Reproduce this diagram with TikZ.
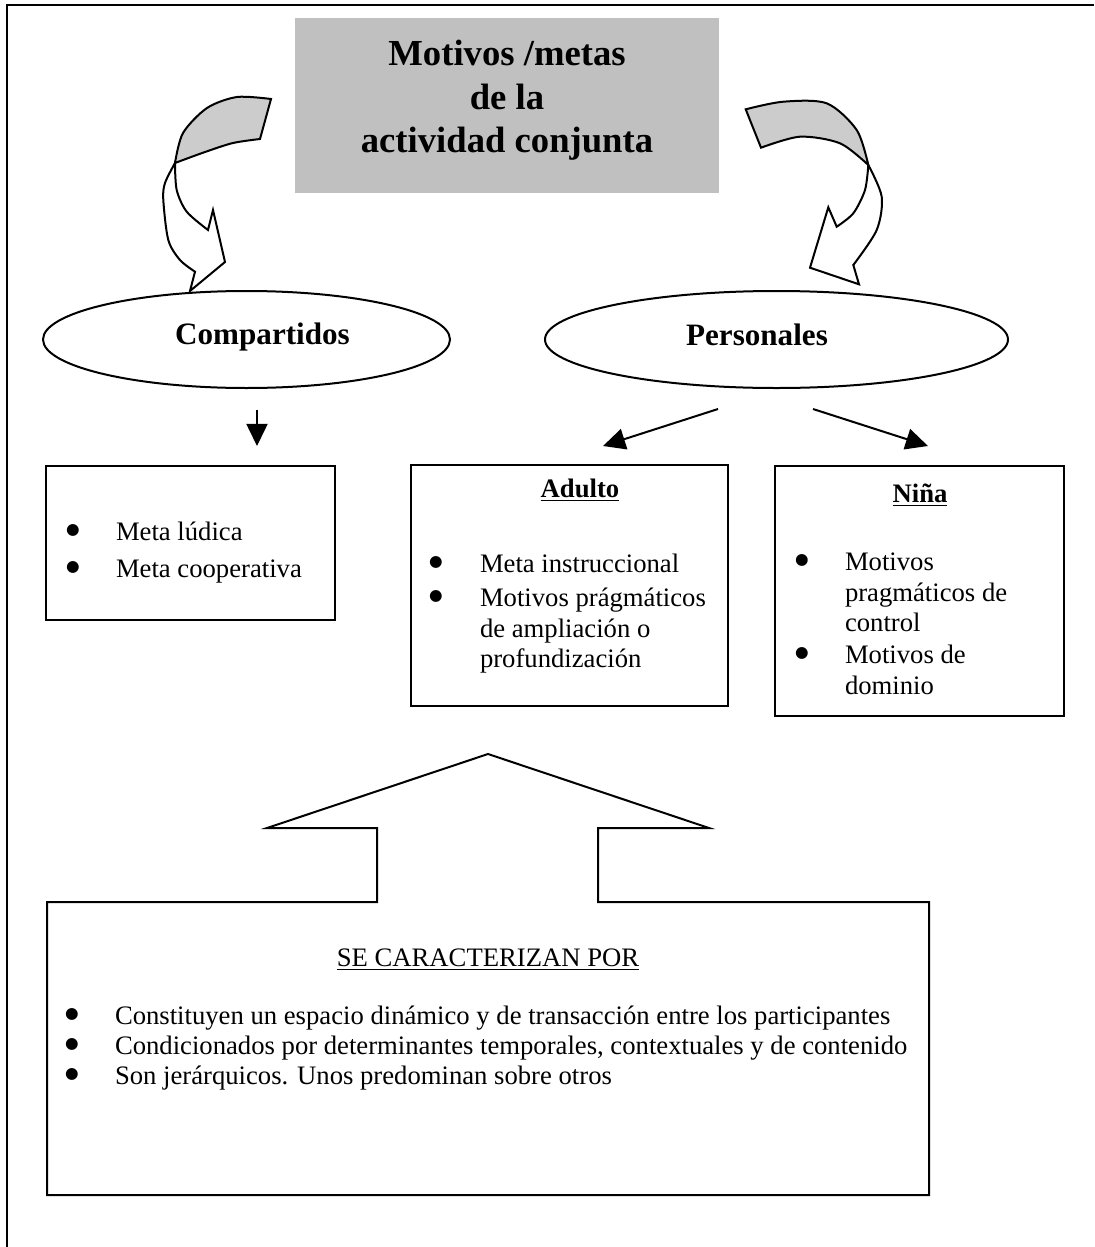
\documentclass[tikz,border=0pt]{standalone}
\usepackage{fontspec}
\setmainfont{Liberation Serif}
\newfontfamily\bulletfont{DejaVu Sans}
\usetikzlibrary{shapes.geometric,arrows.meta,fit,calc}
\definecolor{titlegray}{HTML}{C0C0C0}
\definecolor{ribbongray}{HTML}{CCCCCC}
\begin{document}
\begin{tikzpicture}[x=0.45pt,y=-0.45pt,line width=0.9pt,
  box/.style={draw,inner sep=0pt},
  oval/.style={draw,ellipse,inner sep=0pt},
  arr/.style={-{Triangle[length=10pt,width=9.5pt]}},
  titletxt/.style={anchor=base,inner sep=0pt,font=\fontsize{16.5}{20}\selectfont\bfseries},
  lbl/.style={anchor=base,inner sep=0pt,font=\fontsize{14}{17}\selectfont\bfseries},
  head/.style={anchor=base,inner sep=0pt,font=\fontsize{12}{14}\selectfont\bfseries},
  item/.style={anchor=base west,inner sep=0pt,font=\fontsize{12}{14}\selectfont},
  dot/.style={anchor=center,inner sep=0pt,yshift=4.3pt,font=\bulletfont\fontsize{7}{8}\selectfont},
  ctext/.style={anchor=base,inner sep=0pt,font=\fontsize{12}{14}\selectfont}]
\useasboundingbox (0,0) rectangle (1094,1247);

% page frame (open to the right and bottom)
\draw[line width=1.1pt] (7,1247) -- (7,5) -- (1094,5);

% title block
\node[fill=titlegray,fit={(295,18) (719,193)},inner sep=0pt] (title) {};
\node[titletxt] (t1) at (507,65) {Motivos /metas};
\node[titletxt] (t2) at (507,109) {de la};
\node[titletxt] (t3) at (507,152) {actividad conjunta};

% left curved ribbon arrow
\filldraw[fill=ribbongray] (175,163) -- plot[smooth] coordinates {(175,163) (183,133) (207,108) (237,97) (271,99)}
  -- (260,139) -- plot[smooth] coordinates {(260,139) (233,143) (205,152) (175,163)} -- cycle;
\filldraw[fill=white] (175,163) -- plot[smooth] coordinates {(175,163) (165,183) (163.3,200) (168.3,240) (180,260) (195,271.7)}
  -- (190,291) -- (225,262) -- (213,210) -- (208,230)
  -- plot[smooth] coordinates {(208,230) (186.7,211.7) (176.7,190) (175,163)} -- cycle;

% right curved ribbon arrow
\filldraw[fill=ribbongray] (745.7,109.3) -- plot[smooth] coordinates {(745.7,109.3) (783.3,101.7) (826.7,103.3) (856.7,130) (868.3,165)}
  -- plot[smooth] coordinates {(868.3,165) (840,143.3) (800,136.7) (761,147.7)} -- cycle;
\filldraw[fill=white] (868.3,165) -- plot[smooth] coordinates {(868.3,165) (881.7,196.7) (876.7,230) (853.3,265)}
  -- (859,284.3) -- (810,267.7) -- (828.3,207.3) -- (836.7,226.7)
  -- plot[smooth] coordinates {(836.7,226.7) (853.3,213.3) (865,190) (868.3,165)} -- cycle;

% ovals
\node[oval,minimum width=407*0.45pt,minimum height=97*0.45pt] (comp) at (246.5,339.5) {};
\node[oval,minimum width=463*0.45pt,minimum height=97*0.45pt] (pers) at (776.5,339.5) {};
\node[lbl] (compl) at (262.5,344) {Compartidos};
\node[lbl] (persl) at (757,345) {Personales};

% boxes
\node[box,fit={(46,466) (335,620)}] (lud) {};
\node[box,fit={(411,465) (728,706)}] (adu) {};
\node[box,fit={(775,466) (1064,716)}] (nin) {};

% connectors
\draw[arr] ($(comp.south)+(10.5,21)$) -- ($(lud.north)+(66.5,-19)$);
\draw[arr] ($(pers.south)+(-58.5,20)$) -- ($(adu.north)+(33.5,-18)$);
\draw[arr] ($(pers.south)+(36.5,20)$) -- ($(nin.north)+(8.5,-19)$);

% shared goals
\node[dot] (b1) at (73,540) {●};
\node[item] (i1) at (115,540) {Meta lúdica};
\node[dot] (b2) at (73,577) {●};
\node[item] (i2) at (115,577) {Meta cooperativa};

% adult
\node[head] (adh) at (580,497) {\underline{Adulto}};
\node[dot] (b3) at (436,572) {●};
\node[item] (i3) at (479,572) {Meta instruccional};
\node[dot] (b4) at (436,606) {●};
\node[item] (i4) at (479,606) {Motivos prágmáticos};
\node[item] (i5) at (479,637) {de ampliación o};
\node[item] (i6) at (479,667) {profundización};

% child
\node[head] (ninh) at (920,502) {\underline{Niña}};
\node[dot] (b5) at (802,570) {●};
\node[item] (i7) at (844,570) {Motivos};
\node[item] (i8) at (844,601) {pragmáticos de};
\node[item] (i9) at (844,631) {control};
\node[dot] (b6) at (802,663) {●};
\node[item] (i10) at (844,663) {Motivos de};
\node[item] (i11) at (844,694) {dominio};

% block arrow merged with the bottom box
\draw (47,902) -- (377,902) -- (377,828) -- (267,828) -- (488,754) -- (709,828)
  -- (598,828) -- (598,902) -- (929,902) -- (929,1195) -- (47,1195) -- cycle;
\node[ctext] (cap) at (488,966) {\underline{SE CARACTERIZAN POR}};
\node[dot] (b7) at (72,1024) {●};
\node[item] (i12) at (114,1024) {Constituyen un espacio dinámico y de transacción entre los participantes};
\node[dot] (b8) at (72,1054) {●};
\node[item] (i13) at (114,1054) {Condicionados por determinantes temporales, contextuales y de contenido};
\node[dot] (b9) at (72,1084) {●};
\node[item] (i14) at (114,1084) {Son jerárquicos. Unos predominan sobre otros};
\end{tikzpicture}
\end{document}
